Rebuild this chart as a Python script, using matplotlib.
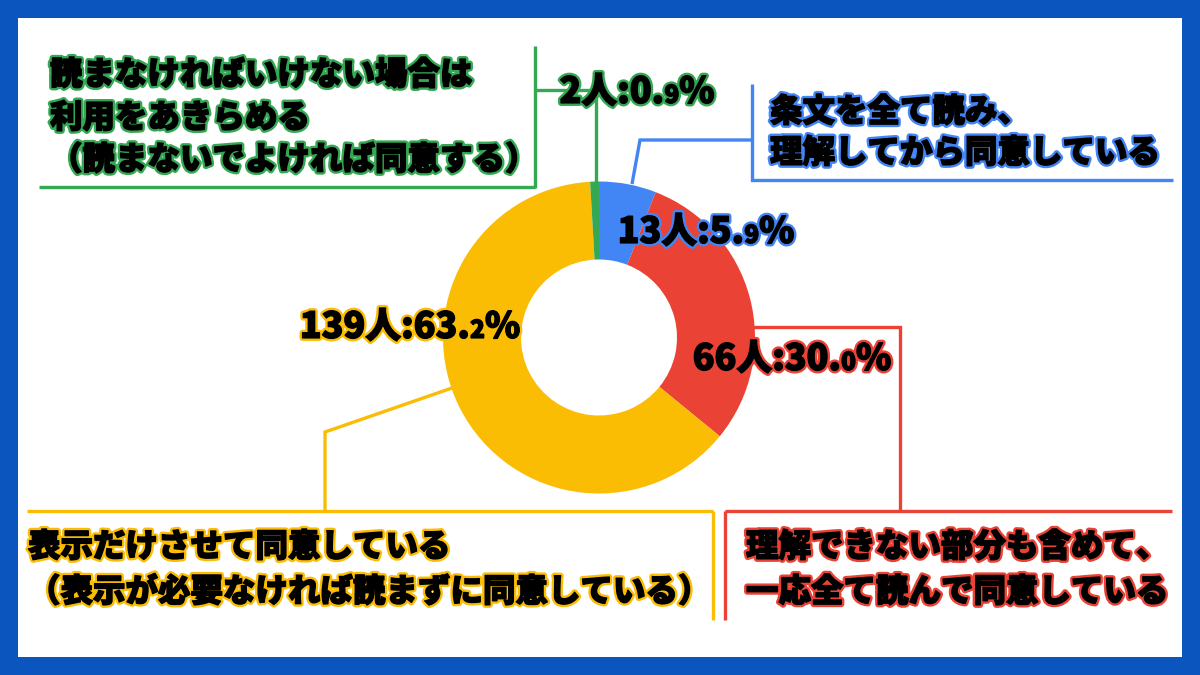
import matplotlib
matplotlib.use('Agg')
import matplotlib.pyplot as plt
import matplotlib.patheffects as pe
from matplotlib.patches import Rectangle

# ---------------- data ----------------
categories = [
    ['条文を全て読み、', '理解してから同意している'],
    ['理解できない部分も含めて、', '一応全て読んで同意している'],
    ['表示だけさせて同意している', '（表示が必要なければ読まずに同意している）'],
    ['読まなければいけない場合は', '利用をあきらめる', '（読まないでよければ同意する）'],
]
counts = [13, 66, 139, 2]
percents = [5.9, 30.0, 63.2, 0.9]
colors = ['#4285f4', '#ea4335', '#fbbc04', '#34a853']

# ---------------- figure ----------------
W, H = 1200, 675
fig = plt.figure(figsize=(12, 6.75), dpi=100)
fig.patch.set_facecolor('#0b55bf')
ax = fig.add_axes([0, 0, 1, 1])


def Y(y):
    return H - y


ax.add_patch(Rectangle((18, Y(657)), 1164, 639, facecolor='white',
                       edgecolor='none', zorder=0))

CX, CY, R = 599, 337.5, 156
ax.pie(counts, colors=colors, startangle=90, counterclock=False, radius=R,
       center=(CX, Y(CY)),
       wedgeprops=dict(width=R * 0.5, edgecolor='none', linewidth=0))
for w in ax.patches[1:]:
    w.set_zorder(3)
ax.set_xlim(0, W)
ax.set_ylim(0, H)
ax.set_aspect('auto')
ax.axis('off')

FONT = ['Noto Sans CJK JP', 'DejaVu Sans']


def stroke(color, lw=4.4):
    return [pe.Stroke(linewidth=lw, foreground=color),
            pe.Stroke(linewidth=1.0, foreground='black'),
            pe.Normal()]


def polyline(pts, color, lw=2.4):
    xs = [p[0] for p in pts]
    ys = [Y(p[1]) for p in pts]
    ax.plot(xs, ys, color=color, lw=lw, solid_capstyle='butt',
            solid_joinstyle='miter', zorder=2)


def multiline(x, ycs, lines, color, size=23.4):
    for yc, line in zip(ycs, lines):
        ax.text(x, Y(yc), line, fontsize=size, family=FONT, weight='black',
                color='black', ha='left', va='center',
                path_effects=stroke(color), zorder=6)


renderer = fig.canvas.get_renderer()


def pct_label(cx, cy, count, pct, color, size=25.8):
    s = f'{pct:.1f}'
    ip, dp = s.split('.')
    parts = [(f'{count}人:{ip}.', size), (dp, size * 0.68), ('%', size)]
    E = size * 100 / 72
    base = Y(cy + 0.36 * E)
    texts = []
    for t, sz in parts:
        tx = ax.text(0, base, t, fontsize=sz, family=FONT, weight='black',
                     color='black', ha='left', va='baseline',
                     path_effects=stroke(color), zorder=7)
        texts.append(tx)
    widths = [t.get_window_extent(renderer).width for t in texts]
    x = cx - sum(widths) / 2
    for t, w in zip(texts, widths):
        t.set_x(x)
        x += w


# ---------------- connectors ----------------
# green
polyline([(39, 187), (535, 187)], colors[3])
polyline([(535, 46), (535, 188)], colors[3])
polyline([(535, 90), (596, 90), (596, 183)], colors[3])
# blue
polyline([(752, 84), (752, 180), (1173, 180)], colors[0])
polyline([(752, 140), (640, 140), (632, 184)], colors[0])
# red
polyline([(752, 327), (900, 327), (900, 511)], colors[1])
polyline([(725, 511), (1172, 511)], colors[1])
polyline([(725, 511), (725, 620)], colors[1])
# yellow
polyline([(452, 388), (325, 432), (325, 511)], colors[2])
polyline([(27, 511), (713, 511)], colors[2])
polyline([(713, 511), (713, 620)], colors[2])

# ---------------- category texts ----------------
multiline(770, [112, 153], categories[0], colors[0])
multiline(746, [547, 592], categories[1], colors[1])
multiline(28, [547, 592], categories[2], colors[2])
multiline(50, [75, 118, 160], categories[3], colors[3])

# ---------------- value labels ----------------
pct_label(706, 230, counts[0], percents[0], colors[0])
pct_label(792, 357, counts[1], percents[1], colors[1])
pct_label(410, 325, counts[2], percents[2], colors[2])
pct_label(637, 90, counts[3], percents[3], colors[3])

fig.savefig('out.png', dpi=100, facecolor=fig.get_facecolor())
